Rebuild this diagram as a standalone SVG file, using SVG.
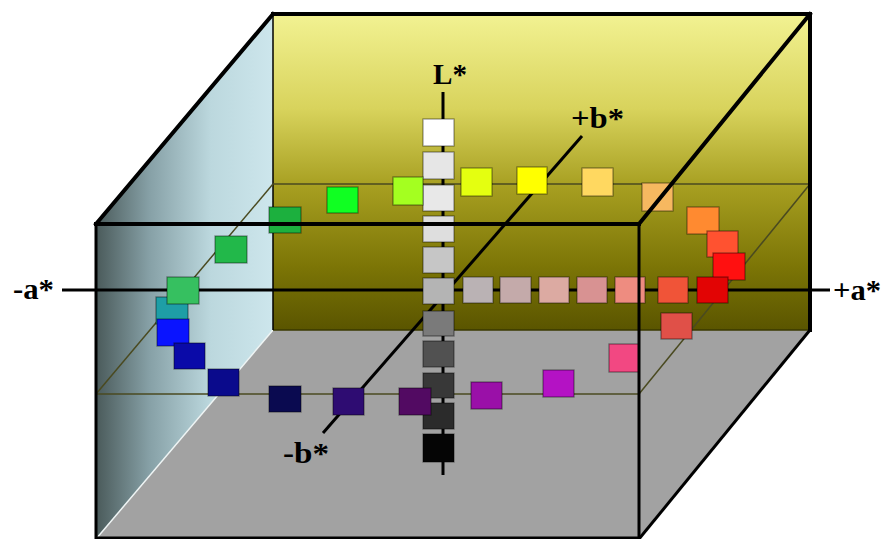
<svg xmlns="http://www.w3.org/2000/svg" width="883" height="539" viewBox="0 0 883 539">
<defs>
<linearGradient id="gBack" x1="0" y1="14" x2="0" y2="330" gradientUnits="userSpaceOnUse">
<stop offset="0" stop-color="#f2f292"/>
<stop offset="0.3" stop-color="#d8d35c"/>
<stop offset="0.55" stop-color="#a69e20"/>
<stop offset="0.8" stop-color="#7c7506"/>
<stop offset="1" stop-color="#5a5500"/>
</linearGradient>
<linearGradient id="gLeft" x1="96" y1="0" x2="273" y2="0" gradientUnits="userSpaceOnUse">
<stop offset="0" stop-color="#4a5a5a"/>
<stop offset="0.3" stop-color="#86a0a6"/>
<stop offset="0.65" stop-color="#bcd8de"/>
<stop offset="1" stop-color="#cde6ec"/>
</linearGradient>
<style>
.thick{stroke:#000;stroke-width:4;fill:none;stroke-linecap:square}
.edge{stroke:#000;stroke-width:3;fill:none}
.plane{stroke:#4a4a20;stroke-width:1.5;fill:none}
.axis{stroke:#000;stroke-width:3;fill:none}
.sq{stroke:#000;stroke-opacity:0.4;stroke-width:1.3}
text{font-family:'Liberation Serif','Times New Roman','DejaVu Serif',serif;font-weight:bold;font-size:29px;fill:#000}
</style>
</defs>

<g id="walls">
<rect x="273" y="14" width="537" height="316" fill="url(#gBack)"/>
<polygon points="96,224 273,14 273,330 96,539" fill="url(#gLeft)"/>
<polygon points="273,330 810,330 639,539 96,539" fill="#a2a2a2"/>
<line x1="273" y1="330" x2="96" y2="539" stroke="#eef4f4" stroke-width="1.5"/>
<line x1="273" y1="330" x2="810" y2="330" stroke="#3a3800" stroke-width="1.5"/>
<line x1="273" y1="14" x2="273" y2="330" stroke="#000" stroke-width="1.5"/>
</g>

<g id="plane">
<line class="plane" x1="273" y1="184" x2="810" y2="184"/>
<line class="plane" x1="96" y1="394" x2="639" y2="394" stroke="#505050"/>
<line class="plane" x1="273" y1="184" x2="96" y2="394"/>
<line class="plane" x1="810" y1="184" x2="639" y2="394"/>
</g>

<g id="axes">
<line class="axis" x1="62" y1="290" x2="830" y2="290"/>
<line class="axis" x1="443" y1="92" x2="443" y2="475"/>
<line class="axis" x1="582" y1="136" x2="323" y2="433"/>
</g>

<g id="lightness">
<rect class="sq" x="423" y="119" width="31" height="27" fill="#ffffff"/>
<rect class="sq" x="423" y="152" width="31" height="27" fill="#e6e6e6"/>
<rect class="sq" x="423" y="185" width="31" height="26" fill="#e8e8e8"/>
<rect class="sq" x="423" y="216" width="31" height="26" fill="#dedede"/>
<rect class="sq" x="423" y="247" width="31" height="26" fill="#c6c6c6"/>
<rect class="sq" x="423" y="278" width="31" height="26" fill="#b4b4b4"/>
<rect class="sq" x="423" y="311" width="31" height="25" fill="#7a7a7a"/>
<rect class="sq" x="423" y="341" width="31" height="26" fill="#515151"/>
<rect class="sq" x="423" y="373" width="31" height="25" fill="#383838"/>
<rect class="sq" x="423" y="403" width="31" height="26" fill="#2b2b2b"/>
<rect class="sq" x="423" y="434" width="31" height="28" fill="#050505"/>
</g>

<g id="a-row">
<rect class="sq" x="463" y="277" width="30" height="26" fill="#bab2b4"/>
<rect class="sq" x="500" y="277" width="31" height="26" fill="#c4aaaa"/>
<rect class="sq" x="539" y="277" width="30" height="26" fill="#dcaaa2"/>
<rect class="sq" x="577" y="277" width="30" height="26" fill="#d89292"/>
<rect class="sq" x="615" y="277" width="30" height="26" fill="#ee8c80"/>
<rect class="sq" x="658" y="277" width="30" height="26" fill="#f05438"/>
</g>

<g id="hue-ring">
<rect class="sq" x="156" y="297" width="32" height="27" fill="#1e9ea6"/>
<rect class="sq" x="167" y="277" width="32" height="27" fill="#36c060"/>
<rect class="sq" x="157" y="319" width="32" height="27" fill="#0a14ff"/>
<rect class="sq" x="174" y="343" width="31" height="26" fill="#0a0aa8"/>
<rect class="sq" x="208" y="369" width="31" height="27" fill="#0a0a8c"/>
<rect class="sq" x="269" y="386" width="32" height="26" fill="#0a0a50"/>
<rect class="sq" x="333" y="388" width="31" height="27" fill="#2e0c72"/>
<rect class="sq" x="399" y="388" width="32" height="27" fill="#520a62"/>
<rect class="sq" x="471" y="382" width="31" height="27" fill="#9a10a8"/>
<rect class="sq" x="543" y="370" width="31" height="27" fill="#b412c4"/>
<rect class="sq" x="609" y="344" width="30" height="28" fill="#f24882"/>
<rect class="sq" x="661" y="313" width="31" height="26" fill="#e05048"/>
<rect class="sq" x="642" y="183" width="31" height="28" fill="#f6b860"/>
<rect class="sq" x="687" y="207" width="32" height="27" fill="#ff8a30"/>
<rect class="sq" x="707" y="231" width="31" height="26" fill="#ff5230"/>
<rect class="sq" x="713" y="253" width="32" height="27" fill="#ff1010"/>
<rect class="sq" x="697" y="277" width="31" height="26" fill="#e20404"/>
<rect class="sq" x="582" y="168" width="31" height="28" fill="#ffd860"/>
<rect class="sq" x="517" y="167" width="30" height="27" fill="#ffff00"/>
<rect class="sq" x="461" y="168" width="31" height="28" fill="#e4ff10"/>
<rect class="sq" x="393" y="177" width="30" height="28" fill="#a4ff20"/>
<rect class="sq" x="327" y="187" width="31" height="26" fill="#10ff22"/>
<rect class="sq" x="269" y="207" width="32" height="26" fill="#1cb03e"/>
<rect class="sq" x="215" y="236" width="32" height="27" fill="#22b84a"/>
</g>

<g id="box-edges">
<line class="thick" x1="273" y1="14" x2="810" y2="14" stroke-width="5"/>
<line class="thick" x1="810" y1="14" x2="810" y2="330"/>
<line class="thick" x1="96" y1="224" x2="273" y2="14"/>
<line class="thick" x1="639" y1="224" x2="810" y2="14" stroke-width="3"/>
<line class="edge" x1="810" y1="330" x2="639" y2="539" stroke-width="2.5"/>
<rect class="edge" x="96" y="224" width="543" height="314"/>
<line class="thick" x1="96" y1="224" x2="639" y2="224"/>
</g>

<g id="labels">
<text x="433" y="84" textLength="34" lengthAdjust="spacingAndGlyphs">L*</text>
<text x="571" y="128" textLength="53" lengthAdjust="spacingAndGlyphs">+b*</text>
<text x="13" y="299" textLength="41" lengthAdjust="spacingAndGlyphs">-a*</text>
<text x="833" y="300" textLength="48" lengthAdjust="spacingAndGlyphs">+a*</text>
<text x="283" y="463" textLength="46" lengthAdjust="spacingAndGlyphs">-b*</text>
</g>
</svg>
